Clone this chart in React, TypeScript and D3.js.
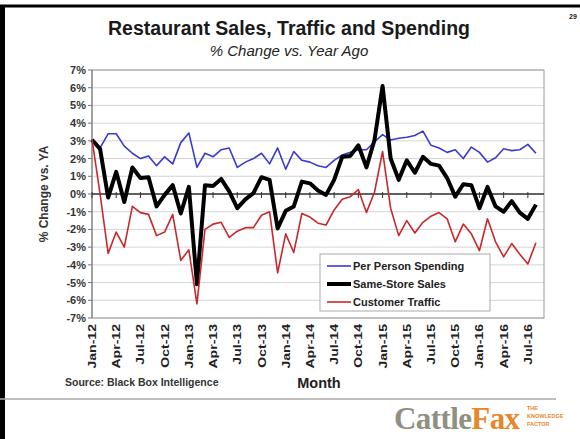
import React from "react";
import * as d3 from "d3";

const tickLabels = ["Jan-12","Apr-12","Jul-12","Oct-12","Jan-13","Apr-13","Jul-13","Oct-13","Jan-14","Apr-14","Jul-14","Oct-14","Jan-15","Apr-15","Jul-15","Oct-15","Jan-16","Apr-16","Jul-16"];
const yTicks = [7,6,5,4,3,2,1,0,-1,-2,-3,-4,-5,-6,-7];

const perPersonSpending = [3.05,2.6,3.4,3.4,2.7,2.3,2.0,2.15,1.6,2.1,1.7,2.9,3.45,1.5,2.3,2.1,2.5,2.6,1.5,1.8,2.0,2.3,1.7,2.6,1.4,2.4,1.9,1.8,1.6,1.5,1.9,2.2,2.35,2.5,2.5,2.95,3.35,3.05,3.15,3.2,3.3,3.55,2.75,2.6,2.35,2.5,2.0,2.65,2.35,1.8,2.05,2.55,2.45,2.5,2.8,2.3];
const sameStoreSales = [3.05,2.55,-0.2,1.25,-0.45,1.5,0.9,0.95,-0.7,-0.05,0.5,-1.1,0.4,-5.1,0.5,0.45,0.85,0.15,-0.8,-0.3,0.05,0.95,0.8,-1.95,-0.95,-0.7,0.7,0.6,0.2,-0.05,0.8,2.1,2.15,2.75,1.5,3.05,6.1,2.0,0.8,1.9,1.2,2.1,1.7,1.6,0.9,-0.15,0.55,0.5,-0.8,0.4,-0.7,-1.0,-0.4,-1.05,-1.4,-0.6];
const customerTraffic = [3.1,0.0,-3.35,-2.15,-3.0,-0.7,-1.05,-1.15,-2.35,-2.15,-1.15,-3.75,-3.15,-6.2,-2.0,-1.7,-1.6,-2.45,-2.1,-1.9,-1.9,-1.2,-1.0,-4.45,-2.25,-3.3,-1.1,-1.3,-1.65,-1.75,-0.9,-0.3,-0.15,0.25,-1.05,0.1,2.4,-0.8,-2.35,-1.5,-2.2,-1.6,-1.25,-1.05,-1.4,-2.7,-1.7,-2.25,-3.2,-1.4,-2.7,-3.55,-2.8,-3.4,-3.95,-2.75];

const seriesNames = ["Per Person Spending","Same-Store Sales","Customer Traffic"];

const W = 580, H = 439;
const x = d3.scaleLinear().domain([0, 56]).range([92, 544]);
const y = d3.scaleLinear().domain([-7, 7]).range([318, 70]);
const line = d3.line<number>().x((_, i) => x(i)).y(d => y(d));

const series = [
  { name: seriesNames[0], data: perPersonSpending, color: "#3a3ad0", width: 1.6 },
  { name: seriesNames[1], data: sameStoreSales, color: "#000000", width: 4 },
  { name: seriesNames[2], data: customerTraffic, color: "#c8282c", width: 1.6 },
];

const font = "'Liberation Sans', Arial, sans-serif";

export default function App() {
  return (
    <svg width={W} height={H} style={{ position: "absolute", left: 0, top: 0, background: "#fff" }} fontFamily={font}>
      {/* frame */}
      <rect x={0} y={0} width={W} height={H} fill="#fff" />
      <line x1={0} y1={6} x2={W} y2={6} stroke="#000" strokeWidth={3} />
      <line x1={2.5} y1={5} x2={2.5} y2={H} stroke="#000" strokeWidth={5} />
      <text x={573} y={19} fontSize={7} fontWeight="bold" textAnchor="middle" fill="#222">29</text>

      {/* titles */}
      <text x={289} y={35} fontSize={19.5} fontWeight="bold" textAnchor="middle" fill="#1a1a1a">Restaurant Sales, Traffic and Spending</text>
      <text x={289} y={56} fontSize={15} fontStyle="italic" textAnchor="middle" fill="#222">% Change vs. Year Ago</text>

      {/* gridlines */}
      {yTicks.map(t => (
        <line key={"g" + t} x1={x(0)} x2={x(56)} y1={y(t)} y2={y(t)} stroke="#d4d4d4" strokeWidth={1} />
      ))}
      <rect x={x(0)} y={y(7)} width={x(56) - x(0)} height={y(-7) - y(7)} fill="none" stroke="#9a9a9a" strokeWidth={1} />
      {/* y axis */}
      <line x1={x(0)} x2={x(0)} y1={y(7)} y2={y(-7)} stroke="#777" strokeWidth={1} />
      {yTicks.map(t => (
        <g key={"yt" + t}>
          <line x1={x(0) - 4} x2={x(0)} y1={y(t)} y2={y(t)} stroke="#777" />
          <text x={x(0) - 6} y={y(t) + 4} fontSize={11} fontWeight="bold" textAnchor="end" fill="#333">{t}%</text>
        </g>
      ))}
      {/* zero line with ticks */}
      <line x1={x(0)} x2={x(56)} y1={y(0)} y2={y(0)} stroke="#333" strokeWidth={1.3} />
      {tickLabels.map((_, k) => (
        <line key={"xt" + k} x1={x(k * 3)} x2={x(k * 3)} y1={y(0) - 2} y2={y(0) + 4} stroke="#333" />
      ))}

      {/* series */}
      {series.map(s => (
        <path key={s.name} d={line(s.data) || ""} fill="none" stroke={s.color} strokeWidth={s.width} strokeLinejoin="round" />
      ))}

      {/* x tick labels */}
      {tickLabels.map((lab, k) => (
        <text key={lab} transform={`translate(${x(k * 3) + 4},${324}) rotate(-90) scale(1.28,1)`} fontSize={11} fontWeight="bold" textAnchor="end" fill="#222">{lab}</text>
      ))}

      {/* axis titles */}
      <text transform={`translate(48,${y(0)}) rotate(-90)`} fontSize={12} fontWeight="bold" textAnchor="middle" fill="#333">% Change vs. YA</text>
      <text x={319} y={388} fontSize={14.5} fontWeight="bold" textAnchor="middle" fill="#222">Month</text>
      <text x={65} y={386} fontSize={10.5} fontWeight="bold" fill="#333">Source: Black Box Intelligence</text>

      {/* legend */}
      <rect x={320} y={254} width={170} height={57} fill="#fff" stroke="#aaa" strokeWidth={1} />
      {series.map((s, i) => (
        <g key={"lg" + s.name} transform={`translate(327,${266 + i * 18})`}>
          <line x1={0} x2={24} y1={0} y2={0} stroke={s.color} strokeWidth={s.width} />
          <text x={26} y={4} fontSize={11} fontWeight="bold" fill="#222">{s.name}</text>
        </g>
      ))}

      {/* bottom rule */}
      <line x1={0} x2={556} y1={399} y2={399} stroke="#aaa" strokeWidth={1.5} />

      {/* logo */}
      <text x={394} y={429} fontSize={31} fontWeight="bold" fontFamily="'Liberation Serif', 'DejaVu Serif', serif" letterSpacing={-0.6}>
        <tspan fill="#8f8f82">Cattle</tspan><tspan fill="#e8862a">Fax</tspan>
      </text>
      <g fontSize={5.5} fontWeight="bold" fill="#e8862a">
        <text x={527} y={410}>THE</text>
        <text x={527} y={418}>KNOWLEDGE</text>
        <text x={527} y={426}>FACTOR</text>
      </g>
    </svg>
  );
}
